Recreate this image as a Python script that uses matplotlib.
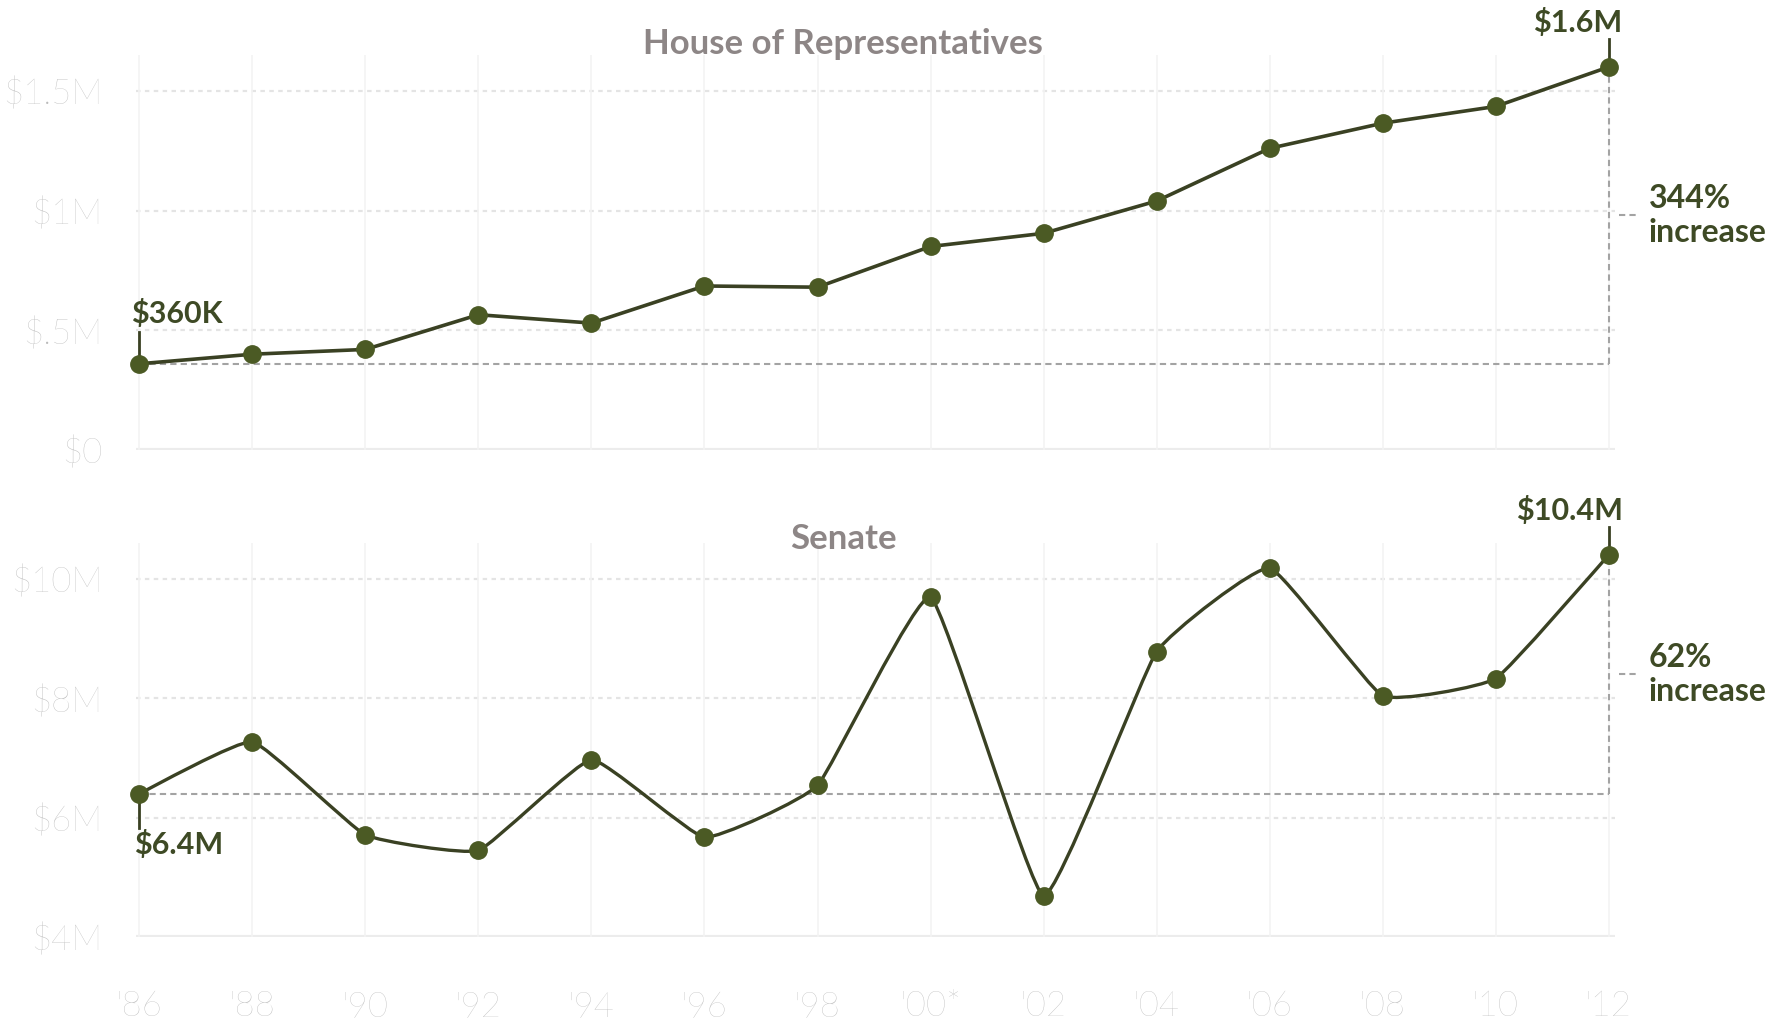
import numpy as np
import matplotlib
matplotlib.use('Agg')
import matplotlib.pyplot as plt
from matplotlib.path import Path
from matplotlib.patches import PathPatch

# average cost of a winning campaign, election years 1986-2012
years = [1986, 1988, 1990, 1992, 1994, 1996, 1998, 2000, 2002, 2004, 2006, 2008, 2010, 2012]
year_labels = ["'86", "'88", "'90", "'92", "'94", "'96", "'98", "'00*", "'02", "'04", "'06", "'08", "'10", "'12"]
house = [0.36, 0.40, 0.42, 0.565, 0.53, 0.685, 0.68, 0.85, 0.905, 1.04, 1.26, 1.365, 1.435, 1.6]   # $M
senate = [6.4, 7.27, 5.71, 5.45, 6.97, 5.67, 6.54, 9.69, 4.69, 8.78, 10.18, 8.04, 8.33, 10.4]    # $M

house_ticks = [0, 0.5, 1, 1.5]
house_tick_labels = ['$0', '$.5M', '$1M', '$1.5M']
senate_ticks = [4, 6, 8, 10]
senate_tick_labels = ['$4M', '$6M', '$8M', '$10M']

LINE = '#3a4123'
DOT = '#4b5a24'
NOTE = '#3e4a25'
TICK = '#bababa'
TITLE = '#8d8686'
REF = '#a3a3a3'

plt.rcParams['font.family'] = ['Lato', 'DejaVu Sans']

fig = plt.figure(figsize=(17.77, 10.28), dpi=100)
ax1 = fig.add_axes([0.0765, 0.5623, 0.8323, 0.3842])
ax2 = fig.add_axes([0.0765, 0.0885, 0.8323, 0.3833])


def cardinal_path(xs, ys, k=0.06):
    # smooth curve through the points, built from cubic bezier pieces
    xs = np.asarray(xs, float)
    ys = np.asarray(ys, float)
    n = len(xs)
    verts = [(xs[0], ys[0])]
    codes = [Path.MOVETO]
    for i in range(n - 1):
        i0 = max(i - 1, 0)
        i3 = min(i + 2, n - 1)
        c1 = (xs[i] + k * (xs[i + 1] - xs[i0]), ys[i] + k * (ys[i + 1] - ys[i0]))
        c2 = (xs[i + 1] - k * (xs[i3] - xs[i]), ys[i + 1] - k * (ys[i3] - ys[i]))
        verts += [c1, c2, (xs[i + 1], ys[i + 1])]
        codes += [Path.CURVE4] * 3
    return Path(verts, codes)


def style_axes(ax, ticks, labels, lo, hi):
    ax.set_xlim(1985.94, 2012.11)
    ax.set_ylim(lo, hi)
    for s in ax.spines.values():
        s.set_visible(False)
    ax.set_yticks(ticks)
    ax.set_yticklabels(labels)
    ax.set_xticks(years)
    ax.tick_params(length=0, labelsize=25, labelcolor=TICK, pad=24)
    for t in ax.get_yticklabels() + ax.get_xticklabels():
        t.set_fontweight('light')
    ax.grid(axis='x', color='#f3f3f3', lw=1.2)
    for v in ticks[1:]:
        ax.axhline(v, color='#e4e4e4', lw=1.6, ls=(0, (2, 2)), zorder=0)
    ax.axhline(ticks[0], color='#ececec', lw=3, zorder=0)
    ax.set_axisbelow(True)


style_axes(ax1, house_ticks, house_tick_labels, 0, 1.65)
style_axes(ax2, senate_ticks, senate_tick_labels, 4, 10.6)
ax1.tick_params(axis='x', labelbottom=False)
ax2.set_xticklabels(year_labels)
ax2.tick_params(axis='x', pad=38)

# house: straight segments
ax1.plot(years, house, color=LINE, lw=2.6, zorder=3, clip_on=False)
ax1.plot(years, house, 'o', color=DOT, ms=12.5, zorder=4, clip_on=False)

# senate: smoothed line
ax2.add_patch(PathPatch(cardinal_path(years, senate), fill=False, edgecolor=LINE, lw=2.4, zorder=3, clip_on=False))
ax2.plot(years, senate, 'o', color=DOT, ms=12.5, zorder=4, clip_on=False)


def change_marks(ax, vals, first_txt, last_txt, pct_txt, first_below):
    v0, v1 = vals[0], vals[-1]
    x0, x1 = years[0], years[-1]
    tr = ax.transData
    inv = tr.inverted()

    # dashed bracket: start level across, then up to the end value
    ax.plot([x0, x1], [v0, v0], color=REF, lw=1.5, ls=(0, (3, 2)), zorder=2, clip_on=False)
    ax.plot([x1, x1], [v0, v1], color=REF, lw=1.5, ls=(0, (3, 2)), zorder=2, clip_on=False)

    mid = (v0 + v1) / 2
    ax.annotate(pct_txt, xy=(x1, mid), xytext=(40, 0), textcoords='offset pixels',
                ha='left', va='center', fontsize=23, fontweight='bold', color=NOTE,
                linespacing=1.2, annotation_clip=False)
    # little dashed connector between the bracket and the percentage
    px, py = tr.transform((x1, mid))
    a = inv.transform((px + 10, py))
    b = inv.transform((px + 28, py))
    ax.plot([a[0], b[0]], [a[1], b[1]], color=REF, lw=1.5, ls=(0, (3, 2)), clip_on=False)

    # value labels at both ends with short leader ticks
    q0 = tr.transform((x0, v0))
    if first_below:
        ax.annotate(first_txt, xy=(x0, v0), xytext=(-5, -36), textcoords='offset pixels',
                    ha='left', va='top', fontsize=22, fontweight='bold', color=NOTE, annotation_clip=False)
        e = inv.transform((q0[0], q0[1] - 34))
    else:
        ax.annotate(first_txt, xy=(x0, v0), xytext=(-8, 36), textcoords='offset pixels',
                    ha='left', va='bottom', fontsize=22, fontweight='bold', color=NOTE, annotation_clip=False)
        e = inv.transform((q0[0], q0[1] + 32))
    ax.plot([x0, x0], [v0, e[1]], color=LINE, lw=2, zorder=2, clip_on=False)

    ax.annotate(last_txt, xy=(x1, v1), xytext=(14, 30), textcoords='offset pixels',
                ha='right', va='bottom', fontsize=22, fontweight='bold', color=NOTE, annotation_clip=False)
    q1 = tr.transform((x1, v1))
    e = inv.transform((q1[0], q1[1] + 28))
    ax.plot([x1, x1], [v1, e[1]], color=LINE, lw=2, zorder=2, clip_on=False)


change_marks(ax1, house, '$360K', '$1.6M', '344%\nincrease', False)
change_marks(ax2, senate, '$6.4M', '$10.4M', '62%\nincrease', True)

fig.text(843 / 1777, 1 - 44 / 1028, 'House of Representatives', ha='center', va='center',
         fontsize=25, fontweight='bold', color=TITLE)
fig.text(843 / 1777, 1 - 539 / 1028, 'Senate', ha='center', va='center',
         fontsize=25, fontweight='bold', color=TITLE)

fig.savefig('out.png', dpi=100, facecolor='white')
